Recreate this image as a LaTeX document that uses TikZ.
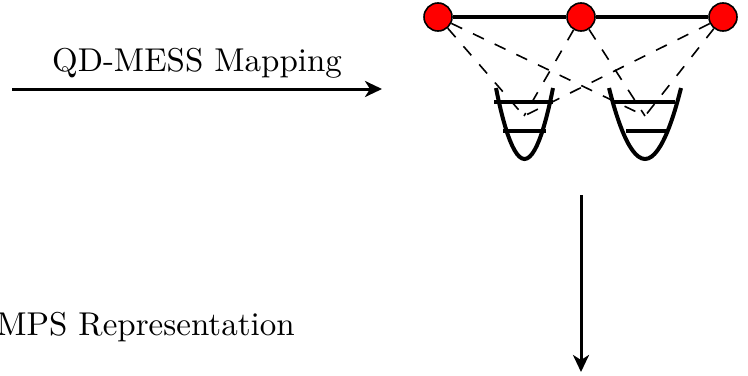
\documentclass[tikz,border=0pt]{standalone}
\usetikzlibrary{arrows.meta}
\begin{document}
\begin{tikzpicture}[x=0.5pt,y=-0.5pt,
  site/.style={circle,draw=black,line width=0.8pt,fill=red,minimum size=14pt,inner sep=0pt},
  link/.style={line width=1.7pt},
  hop/.style={dashed,line width=0.8pt,dash pattern=on 6pt off 6pt},
  well/.style={line width=2pt},
  level/.style={line width=2pt},
  bigarrow/.style={line width=1.5pt,-{Stealth[length=8.5pt,width=8pt,inset=2.5pt]}},
  lbl/.style={inner sep=0pt}]
\useasboundingbox (0,0) rectangle (748,375);
% wells
\draw[well] (496,88) parabola bend (524.5,159) (553,88);
\draw[well] (609,88) parabola bend (645,159) (681,88);
\draw[level] (494,102) -- (553,102);
\draw[level] (503,131) -- (546,131);
\draw[level] (613,102) -- (675,102);
\draw[level] (626,131) -- (666,131);
\coordinate (p1) at (524,116);
\coordinate (p2) at (645,116);
% sites
\node[site] (c1) at (438,17) {};
\node[site] (c2) at (581,17) {};
\node[site] (c3) at (723,17) {};
\draw[link] (c1) -- (c2);
\draw[link] (c2) -- (c3);
\draw[hop] (c1) -- (p1);
\draw[hop] (c1) -- (p2);
\draw[hop] (c2) -- (p1);
\draw[hop] (c2) -- (p2);
\draw[hop] (c3) -- (p1);
\draw[hop] (c3) -- (p2);
% arrows
\coordinate (a1) at (12,89);
\coordinate (a2) at (382,89);
\draw[bigarrow] (a1) -- (a2);
\node[lbl,anchor=base] (t1) at (197,71) {\scalebox{1.65}{QD-MESS Mapping}};
\coordinate (b1) at (581,195);
\coordinate (b2) at (581,372);
\draw[bigarrow] (b1) -- (b2);
\node[lbl,anchor=base west] (t2) at (-4,335) {\scalebox{1.65}{MPS Representation}};
\end{tikzpicture}
\end{document}
